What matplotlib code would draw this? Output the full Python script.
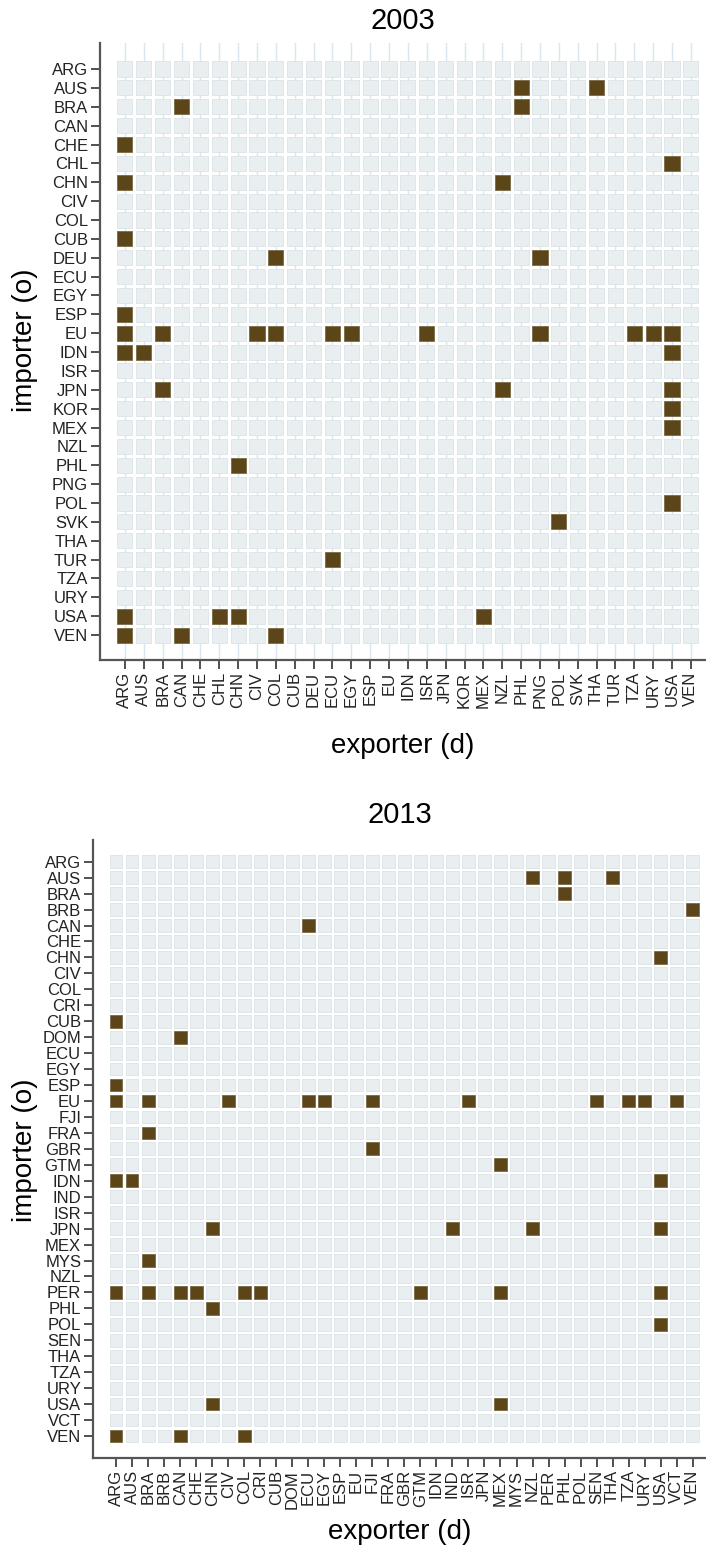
import matplotlib
matplotlib.use("Agg")
import matplotlib.pyplot as plt
from matplotlib.patches import Rectangle

plt.rcParams['font.family'] = ['Liberation Sans', 'DejaVu Sans']

# --- 2003 ---
countries_2003 = ["ARG", "AUS", "BRA", "CAN", "CHE", "CHL", "CHN", "CIV", "COL", "CUB",
                  "DEU", "ECU", "EGY", "ESP", "EU", "IDN", "ISR", "JPN", "KOR", "MEX",
                  "NZL", "PHL", "PNG", "POL", "SVK", "THA", "TUR", "TZA", "URY", "USA", "VEN"]
# importer -> exporters with a link
links_2003 = {
    "AUS": ["PHL", "THA"],
    "BRA": ["CAN", "PHL"],
    "CHE": ["ARG"],
    "CHL": ["USA"],
    "CHN": ["ARG", "NZL"],
    "CUB": ["ARG"],
    "DEU": ["COL", "PNG"],
    "ESP": ["ARG"],
    "EU": ["ARG", "BRA", "CIV", "COL", "ECU", "EGY", "ISR", "PNG", "TZA", "URY", "USA"],
    "IDN": ["ARG", "AUS", "USA"],
    "JPN": ["BRA", "NZL", "USA"],
    "KOR": ["USA"],
    "MEX": ["USA"],
    "PHL": ["CHN"],
    "POL": ["USA"],
    "SVK": ["POL"],
    "TUR": ["ECU"],
    "USA": ["ARG", "CHL", "CHN", "MEX"],
    "VEN": ["ARG", "CAN", "COL"],
}

# --- 2013 ---
countries_2013 = ["ARG", "AUS", "BRA", "BRB", "CAN", "CHE", "CHN", "CIV", "COL", "CRI",
                  "CUB", "DOM", "ECU", "EGY", "ESP", "EU", "FJI", "FRA", "GBR", "GTM",
                  "IDN", "IND", "ISR", "JPN", "MEX", "MYS", "NZL", "PER", "PHL", "POL",
                  "SEN", "THA", "TZA", "URY", "USA", "VCT", "VEN"]
links_2013 = {
    "AUS": ["NZL", "PHL", "THA"],
    "BRA": ["PHL"],
    "BRB": ["VEN"],
    "CAN": ["ECU"],
    "CHN": ["USA"],
    "CUB": ["ARG"],
    "DOM": ["CAN"],
    "ESP": ["ARG"],
    "EU": ["ARG", "BRA", "CIV", "ECU", "EGY", "FJI", "ISR", "SEN", "TZA", "URY", "VCT"],
    "FRA": ["BRA"],
    "GBR": ["FJI"],
    "GTM": ["MEX"],
    "IDN": ["ARG", "AUS", "USA"],
    "JPN": ["CHN", "IND", "NZL", "USA"],
    "MYS": ["BRA"],
    "PER": ["ARG", "BRA", "CAN", "CHE", "COL", "CRI", "GTM", "MEX", "USA"],
    "PHL": ["CHN"],
    "POL": ["USA"],
    "USA": ["CHN", "MEX"],
    "VEN": ["ARG", "CAN", "COL"],
}

EMPTY = "#e9eff1"
EMPTY_EDGE = "#dce4e7"
FILLED = "#5c4619"
FILLED_EDGE = "#7a6a45"
AXCOL = "#555555"


def draw_panel(ax, countries, links, title, xlim, ylim, grid):
    n = len(countries)
    idx = {c: i for i, c in enumerate(countries)}
    size = 0.8
    for r, imp in enumerate(countries):
        for c, exp in enumerate(countries):
            on = exp in links.get(imp, [])
            ax.add_patch(Rectangle((c - size / 2, r - size / 2), size, size,
                                   facecolor=FILLED if on else EMPTY,
                                   edgecolor=FILLED_EDGE if on else EMPTY_EDGE,
                                   linewidth=0.6, zorder=2))
    ax.set_xlim(*xlim)
    ax.set_ylim(ylim[1], ylim[0])
    ax.set_xticks(range(n))
    ax.set_xticklabels(countries, rotation=90, fontsize=12, color="#222222")
    ax.set_yticks(range(n))
    ax.set_yticklabels(countries, fontsize=12, color="#222222")
    if grid:
        ax.xaxis.grid(True, color="#d9e6ee", linewidth=1.0, zorder=0)
        ax.set_axisbelow(True)
    for s in ["top", "right"]:
        ax.spines[s].set_visible(False)
    for s in ["left", "bottom"]:
        ax.spines[s].set_color(AXCOL)
        ax.spines[s].set_linewidth(1.6)
    ax.tick_params(axis="both", length=6.5, width=1.2, color="#333333", pad=2)


fig = plt.figure(figsize=(7.06, 15.55), dpi=100)
W, H = 706, 1555

ax1 = fig.add_axes([100 / W, (H - 660) / H, (W - 100) / W, (660 - 43) / H])
draw_panel(ax1, countries_2003, links_2003, "2003", (-1.32, 30.8), (-1.38, 31.32), True)
fig.text(403 / W, 1 - 21 / H, "2003", ha="center", va="center", fontsize=21)
fig.text(403 / W, 1 - 746 / H, "exporter (d)", ha="center", va="center", fontsize=20)
fig.text(25 / W, 1 - 340 / H, "importer (o)", ha="center", va="center", fontsize=20, rotation=90)

ax2 = fig.add_axes([93 / W, (H - 1458) / H, (W - 93) / W, (1458 - 840) / H])
draw_panel(ax2, countries_2013, links_2013, "2013", (-1.44, 36.83), (-1.36, 37.38), False)
fig.text(400 / W, 1 - 815 / H, "2013", ha="center", va="center", fontsize=21)
fig.text(400 / W, 1 - 1532 / H, "exporter (d)", ha="center", va="center", fontsize=20)
fig.text(25 / W, 1 - 1150 / H, "importer (o)", ha="center", va="center", fontsize=20, rotation=90)

fig.savefig("out.png", dpi=100)
